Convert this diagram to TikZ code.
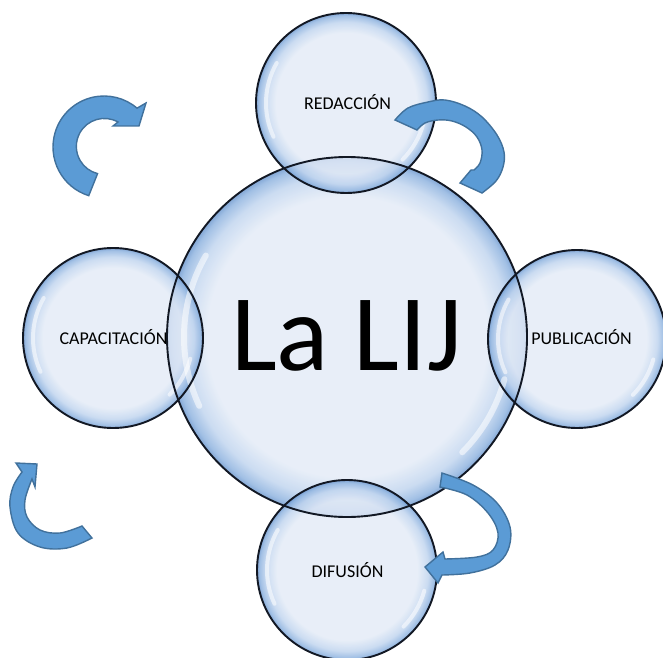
\documentclass[tikz,border=0pt]{standalone}
\usepackage{fontspec}
\setmainfont{Carlito}
\definecolor{bubA}{RGB}{226,234,246}
\definecolor{bubB}{RGB}{190,211,238}
\definecolor{bubC}{RGB}{138,176,222}
\definecolor{bubD}{RGB}{100,145,203}
\definecolor{bubEdge}{RGB}{18,24,36}
\definecolor{arrFill}{RGB}{91,155,213}
\definecolor{arrLine}{RGB}{65,113,156}
\pgfdeclareradialshading{bubble}{\pgfpoint{0bp}{0bp}}{color(0bp)=(bubA); color(19.5bp)=(bubA); color(22.5bp)=(bubB); color(24.3bp)=(bubC); color(25bp)=(bubD); color(50bp)=(bubD)}
\begin{document}
\begin{tikzpicture}[x=1pt,y=1pt,
  bubfill/.style={shading=bubble, fill opacity=0.8},
  bubline/.style={draw=bubEdge, line width=1.9},
  shine/.style={white, line width=4, line cap=round, opacity=0.55},
  bigarrow/.style={fill=arrFill, draw=arrLine, line width=1.4},
  lbl/.style={font=\fontsize{18}{20}\selectfont, anchor=base, inner sep=0pt, text=black},
]
\useasboundingbox (0,0) rectangle (663,657);
\coordinate (cC) at (347,320);
\coordinate (cT) at (346,554);
\coordinate (cL) at (113,319);
\coordinate (cR) at (577,318);
\coordinate (cB) at (347,87);

% bubble fills
\shade[bubfill] (cC) circle[radius=180];
\shade[bubfill] (cT) circle[radius=90];
\shade[bubfill] (cL) circle[radius=90];
\shade[bubfill] (cR) circle[radius=89];
\shade[bubfill] (cB) circle[radius=90];

% highlights
\draw[shine, line width=6] (cC) ++(150:163) arc[start angle=150, end angle=205, radius=163];
\draw[shine, line width=6] (cC) ++(-45:163) arc[start angle=-45, end angle=-15, radius=163];
\foreach \c/\r in {cT/90, cL/90, cR/89, cB/90}{
  \draw[shine] (\c) ++(150:{\r-10}) arc[start angle=150, end angle=205, radius={\r-10}];
  \draw[shine] (\c) ++(-45:{\r-10}) arc[start angle=-45, end angle=-15, radius={\r-10}];
}

% outlines
\draw[bubline] (cC) circle[radius=180];
\draw[bubline] (cT) circle[radius=90];
\draw[bubline] (cL) circle[radius=90];
\draw[bubline] (cR) circle[radius=89];
\draw[bubline] (cB) circle[radius=90];

% texts
\node[anchor=base, inner sep=0pt, font=\fontsize{109}{120}\selectfont] (lij) at (346.5,287) {La LIJ};
\node[lbl] (red) at (347.5,547) {REDACCIÓN};
\node[lbl] (cap) at (113.5,313) {CAPACITACIÓN};
\node[lbl] (pub) at (581.5,313) {PUBLICACIÓN};
\node[lbl] (dif) at (347.5,80) {DIFUSIÓN};

% arrow top-left
\draw[bigarrow] (104,510) ++(252.6:51) arc[start angle=252.6, end angle=49.6, radius=51]
  -- (146,554) -- (139,531) -- (113,531) -- (118,535)
  arc[start angle=60.8, end angle=256, radius=28] -- cycle;

% arrow near REDACCION
\draw[bigarrow] plot[smooth, tension=0.6] coordinates {(395,537) (408,549) (428,555) (445,557) (465,551) (482,540) (497,522) (504,505) (503,490) (496,476) (482,464)}
  -- (460,474) -- (471,487) -- (474,487)
  -- plot[smooth, tension=0.6] coordinates {(474,487) (480,494) (482,507) (477,520) (466,530) (452,536) (438,537) (425,534) (417,527)} -- cycle;

% arrow bottom-left
\draw[bigarrow] plot[smooth, tension=0.6] coordinates {(92,119) (67,109) (40,110) (18,124) (10,150) (13,170) (22,185)}
  -- (16,194) -- (37,193) -- (35,170) -- (32,178)
  -- plot[smooth, tension=0.6] coordinates {(32,178) (25,157) (27,140) (40,127) (60,124) (82,131)} -- cycle;

% arrow near DIFUSION
\draw[bigarrow] plot[smooth, tension=0.6] coordinates {(442,184) (473,172) (497,154) (510,130) (508,107) (495,92) (470,84) (442,82)}
  -- (438,74) -- (425,90) -- (443,105) -- (445,98)
  -- plot[smooth, tension=0.6] coordinates {(445,98) (477,100) (493,107) (498,124) (488,144) (467,162) (440,170)} -- cycle;
\end{tikzpicture}
\end{document}
